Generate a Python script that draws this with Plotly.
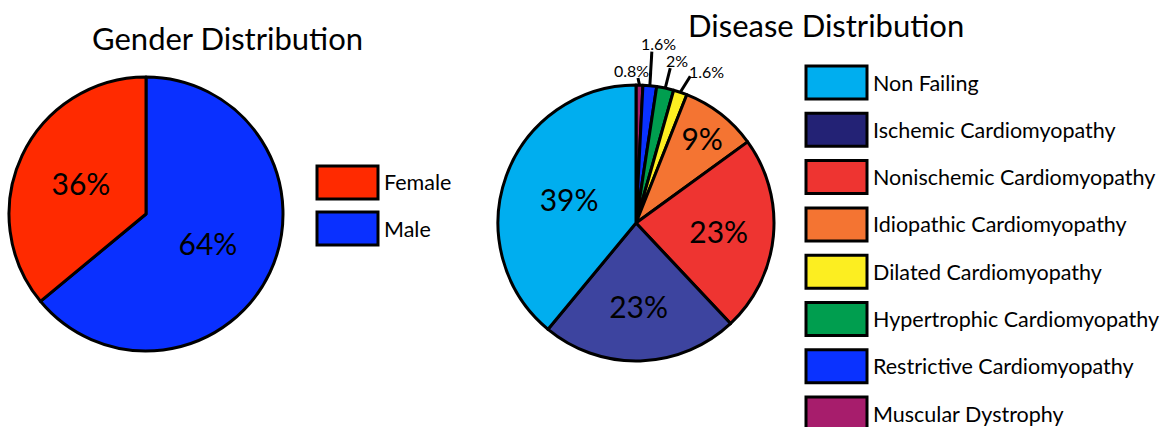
import math
import plotly.graph_objects as go

W, H = 1173, 427
FONT = "Lato"

# ---- data -------------------------------------------------------------
gender_labels = ["Female", "Male"]
gender_values = [36, 64]
gender_colors = ["#FF2A00", "#0A30FF"]

disease_labels = [
    "Non Failing",
    "Ischemic Cardiomyopathy",
    "Nonischemic Cardiomyopathy",
    "Idiopathic Cardiomyopathy",
    "Dilated Cardiomyopathy",
    "Hypertrophic Cardiomyopathy",
    "Restrictive Cardiomyopathy",
    "Muscular Dystrophy",
]
disease_values = [39, 23, 23, 9, 1.6, 2, 1.6, 0.8]
disease_colors = ["#00AEEF", "#3D449F", "#EE3431", "#F47432",
                  "#FCEE21", "#009E4F", "#0A32FF", "#A71D6C"]
disease_key_colors = ["#00AEEF", "#232275", "#EE3431", "#F47432",
                      "#FCEE21", "#009E4F", "#0A32FF", "#A71D6C"]

SMALL = 5  # slices below this share get an outside label with a leader line

# ---- layout helpers (pixel -> paper) ------------------------------------
def px(x):
    return x / W


def py(y):
    return 1 - y / H


# pie boxes in pixels: (left, top, size)
gender_box = (9, 77, 274)
disease_box = (498, 85, 276)


def domain(box):
    l, t, s = box
    return dict(x=[px(l), px(l + s)], y=[py(t + s), py(t)])


def pct(v):
    return f"{v:g}%"


def pie(labels, values, colors, box, positions):
    # slices run counter-clockwise from 12 o'clock in key order; plotly's
    # clockwise mode starts its first slice at 12, so feed the lists reversed
    return go.Pie(
        labels=labels[::-1], values=values[::-1],
        text=[pct(v) for v in values][::-1], textinfo="text",
        textposition=positions[::-1], insidetextorientation="horizontal",
        insidetextfont=dict(family=FONT, size=30, color="black"),
        marker=dict(colors=colors[::-1], line=dict(color="black", width=3)),
        sort=False, direction="clockwise", rotation=0,
        domain=domain(box), showlegend=False, hoverinfo="label+percent",
    )


fig = go.Figure()
fig.add_trace(pie(gender_labels, gender_values, gender_colors, gender_box,
                  ["inside"] * len(gender_values)))
fig.add_trace(pie(disease_labels, disease_values, disease_colors, disease_box,
                  ["inside" if v >= SMALL else "none" for v in disease_values]))

# ---- outside labels for the thin slices ---------------------------------
# offsets in pixels from the slice's rim point: (line end dx, dy, text dx, dy)
leader_offsets = {
    "Dilated Cardiomyopathy": (10, -16, 26, -21),
    "Hypertrophic Cardiomyopathy": (5, -20, 12, -28),
    "Restrictive Cardiomyopathy": (2, -34, 9, -42),
    "Muscular Dystrophy": (-1.5, -7, -8, -15),
}
l, t, s = disease_box
cx, cy, R = l + s / 2, t + s / 2, s / 2
total = sum(disease_values)
cum = 0.0
for lab, v in zip(disease_labels, disease_values):
    mid = (cum + v / 2) / total
    cum += v
    if v >= SMALL:
        continue
    theta = math.radians(90 + 360 * mid)
    ex, ey = cx + R * math.cos(theta), cy - R * math.sin(theta)
    ldx, ldy, tdx, tdy = leader_offsets[lab]
    fig.add_shape(type="line", xref="paper", yref="paper",
                  x0=px(ex), y0=py(ey), x1=px(ex + ldx), y1=py(ey + ldy),
                  line=dict(color="black", width=3), layer="below")
    fig.add_annotation(x=px(ex + tdx), y=py(ey + tdy), xref="paper", yref="paper",
                       text=pct(v), showarrow=False,
                       xanchor="center", yanchor="middle",
                       font=dict(family=FONT, size=16, color="black"))

# ---- titles ---------------------------------------------------------------
for text, x, y in [("Gender Distribution", 228, 38),
                   ("Disease Distribution", 826, 25)]:
    fig.add_annotation(x=px(x), y=py(y), xref="paper", yref="paper",
                       text=text, showarrow=False,
                       xanchor="center", yanchor="middle",
                       font=dict(family=FONT, size=31, color="black"))


# ---- keys -------------------------------------------------------------------
def add_key(labels, colors, x0, top, step, bw=61, bh=33, size=21.5):
    for i, (lab, col) in enumerate(zip(labels, colors)):
        y0 = top + i * step
        fig.add_shape(type="rect", xref="paper", yref="paper",
                      x0=px(x0), x1=px(x0 + bw), y0=py(y0 + bh), y1=py(y0),
                      fillcolor=col, line=dict(color="black", width=3))
        fig.add_annotation(x=px(x0 + bw + 4), y=py(y0 + bh / 2),
                           xref="paper", yref="paper", text=lab,
                           showarrow=False, xanchor="left", yanchor="middle",
                           font=dict(family=FONT, size=size, color="black"))


add_key(gender_labels, gender_colors, 317, 166, 46)
add_key(disease_labels, disease_key_colors, 806, 66, 47.3)

fig.update_layout(
    width=W, height=H,
    margin=dict(l=0, r=0, t=0, b=0),
    paper_bgcolor="white", plot_bgcolor="white",
    font=dict(family=FONT, color="black"),
)

fig.write_html("out.html")
